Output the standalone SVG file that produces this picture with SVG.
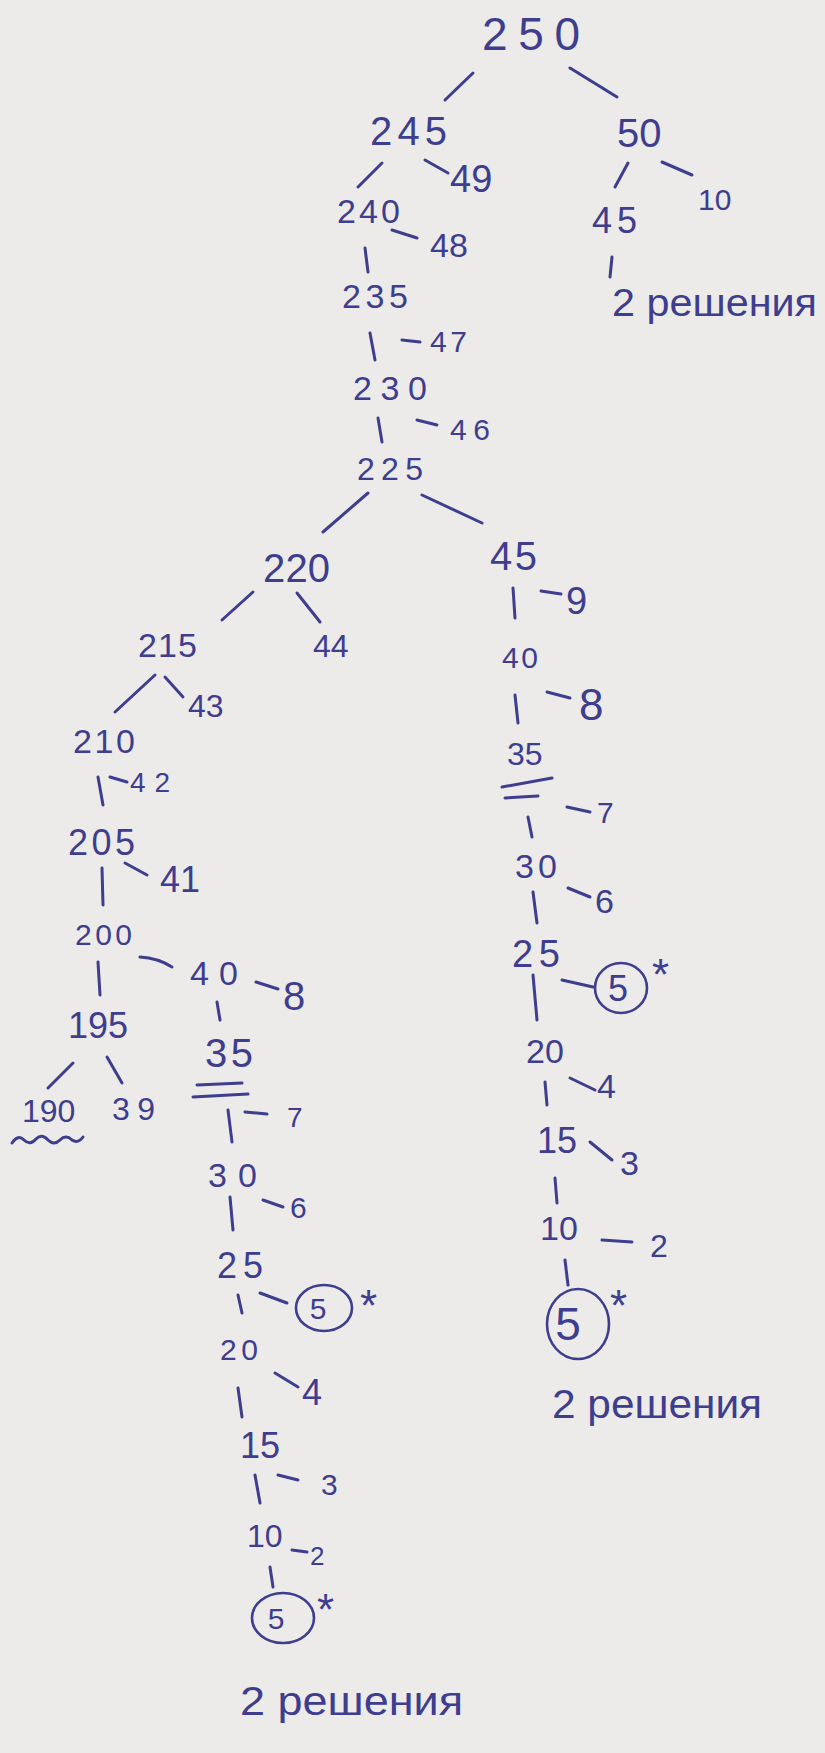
<svg xmlns="http://www.w3.org/2000/svg" width="825" height="1753" viewBox="0 0 825 1753">
<style>
text{font-family:"Liberation Sans","DejaVu Sans",sans-serif;fill:#3e3d8e;}
.c line,.c path,.m line,.m path{stroke:#3e3d8e;stroke-width:3;stroke-linecap:round;fill:none;}
ellipse{stroke:#3e3d8e;stroke-width:2.6;fill:none;}
.ctr{text-anchor:middle;}
</style>
<rect width="825" height="1753" fill="#ecebe9"/>
<g class="c" id="connectors">
<line x1="473" y1="73" x2="445" y2="100"/>
<line x1="570" y1="68" x2="617" y2="97"/>
<line x1="382" y1="163" x2="358" y2="187"/>
<line x1="425" y1="160" x2="448" y2="173"/>
<line x1="628" y1="163" x2="615" y2="187"/>
<line x1="662" y1="162" x2="692" y2="175"/>
<line x1="392" y1="230" x2="417" y2="238"/>
<line x1="365" y1="248" x2="368" y2="272"/>
<line x1="612" y1="257" x2="610" y2="277"/>
<line x1="370" y1="333" x2="375" y2="360"/>
<line x1="402" y1="340" x2="420" y2="342"/>
<line x1="378" y1="418" x2="382" y2="442"/>
<line x1="417" y1="420" x2="437" y2="425"/>
<line x1="368" y1="493" x2="323" y2="532"/>
<line x1="422" y1="495" x2="482" y2="523"/>
<line x1="253" y1="592" x2="222" y2="620"/>
<line x1="297" y1="593" x2="320" y2="622"/>
<line x1="513" y1="588" x2="515" y2="618"/>
<line x1="541" y1="591" x2="561" y2="594"/>
<line x1="155" y1="675" x2="115" y2="712"/>
<line x1="165" y1="677" x2="183" y2="697"/>
<line x1="98" y1="777" x2="103" y2="805"/>
<line x1="110" y1="777" x2="127" y2="782"/>
<line x1="102" y1="868" x2="103" y2="905"/>
<line x1="125" y1="863" x2="147" y2="875"/>
<line x1="98" y1="962" x2="100" y2="995"/>
<path d="M140 957 Q158 958 172 967"/>
<line x1="256" y1="982" x2="278" y2="989"/>
<line x1="217" y1="1002" x2="220" y2="1020"/>
<line x1="73" y1="1063" x2="48" y2="1088"/>
<line x1="107" y1="1057" x2="122" y2="1083"/>
<line x1="228" y1="1110" x2="232" y2="1142"/>
<line x1="245" y1="1112" x2="267" y2="1114"/>
<line x1="230" y1="1197" x2="233" y2="1230"/>
<line x1="263" y1="1200" x2="283" y2="1207"/>
<line x1="238" y1="1295" x2="242" y2="1313"/>
<line x1="260" y1="1293" x2="287" y2="1303"/>
<line x1="238" y1="1388" x2="242" y2="1417"/>
<line x1="275" y1="1373" x2="298" y2="1387"/>
<line x1="255" y1="1475" x2="260" y2="1503"/>
<line x1="278" y1="1475" x2="298" y2="1480"/>
<line x1="270" y1="1567" x2="273" y2="1587"/>
<line x1="292" y1="1550" x2="307" y2="1552"/>
<line x1="515" y1="695" x2="518" y2="723"/>
<line x1="547" y1="692" x2="570" y2="698"/>
<line x1="528" y1="817" x2="532" y2="837"/>
<line x1="567" y1="807" x2="590" y2="812"/>
<line x1="533" y1="892" x2="537" y2="923"/>
<line x1="568" y1="888" x2="590" y2="897"/>
<line x1="533" y1="975" x2="537" y2="1020"/>
<line x1="562" y1="980" x2="593" y2="987"/>
<line x1="545" y1="1082" x2="547" y2="1105"/>
<line x1="570" y1="1078" x2="595" y2="1090"/>
<line x1="555" y1="1178" x2="557" y2="1203"/>
<line x1="590" y1="1142" x2="612" y2="1160"/>
<line x1="565" y1="1260" x2="568" y2="1285"/>
<line x1="602" y1="1240" x2="632" y2="1242"/>
</g>
<g class="m" id="marks">
<line x1="197" y1="1085" x2="242" y2="1083"/>
<line x1="193" y1="1097" x2="248" y2="1094"/>
<line x1="502" y1="787" x2="552" y2="778"/>
<line x1="505" y1="798" x2="538" y2="796"/>
<path d="M12 1143 Q18 1134 24 1140 Q30 1146 36 1139 Q42 1133 48 1140 Q54 1146 60 1140 Q66 1134 72 1140 Q78 1144 83 1137"/>
</g>
<g id="n250"><text x="482" y="50" font-size="46" textLength="98" lengthAdjust="spacing">250</text></g>
<g id="n245"><text x="370" y="145" font-size="40" textLength="77" lengthAdjust="spacing">245</text></g>
<g id="n50"><text x="617" y="147" font-size="40">50</text></g>
<g id="n49"><text x="450" y="192" font-size="38">49</text></g>
<g id="n10a"><text x="698" y="210" font-size="30">10</text></g>
<g id="n240"><text x="337" y="223" font-size="34" textLength="63" lengthAdjust="spacing">240</text></g>
<g id="n48"><text x="430" y="257" font-size="34">48</text></g>
<g id="n45a"><text x="592" y="233" font-size="36" textLength="45" lengthAdjust="spacing">45</text></g>
<g id="sol1"><text x="612" y="316" font-size="38" textLength="205" lengthAdjust="spacingAndGlyphs">2 решения</text></g>
<g id="n235"><text x="342" y="308" font-size="34" textLength="66" lengthAdjust="spacing">235</text></g>
<g id="n47"><text x="430" y="352" font-size="30" textLength="37" lengthAdjust="spacing">47</text></g>
<g id="n230"><text x="353" y="400" font-size="34" textLength="74" lengthAdjust="spacing">230</text></g>
<g id="n46"><text x="450" y="440" font-size="30" textLength="40" lengthAdjust="spacing">46</text></g>
<g id="n225"><text x="357" y="480" font-size="32" textLength="66" lengthAdjust="spacing">225</text></g>
<g id="n45b"><text x="490" y="570" font-size="40" textLength="47" lengthAdjust="spacing">45</text></g>
<g id="n220"><text x="263" y="582" font-size="40" textLength="67" lengthAdjust="spacing">220</text></g>
<g id="n9"><text x="566" y="614" font-size="38">9</text></g>
<g id="n215"><text x="138" y="657" font-size="34" textLength="59" lengthAdjust="spacing">215</text></g>
<g id="n44"><text x="313" y="657" font-size="32">44</text></g>
<g id="n43"><text x="188" y="717" font-size="32">43</text></g>
<g id="n210"><text x="73" y="753" font-size="34" textLength="62" lengthAdjust="spacing">210</text></g>
<g id="n42"><text x="130" y="792" font-size="28" textLength="40" lengthAdjust="spacing">42</text></g>
<g id="n205"><text x="68" y="855" font-size="36" textLength="67" lengthAdjust="spacing">205</text></g>
<g id="n41"><text x="160" y="892" font-size="36">41</text></g>
<g id="n200"><text x="75" y="945" font-size="30" textLength="57" lengthAdjust="spacing">200</text></g>
<g id="n40a"><text x="190" y="985" font-size="34" textLength="48" lengthAdjust="spacing">40</text></g>
<g id="n8a"><text x="283" y="1010" font-size="40">8</text></g>
<g id="n195"><text x="68" y="1038" font-size="36">195</text></g>
<g id="n35a"><text x="205" y="1067" font-size="40" textLength="48" lengthAdjust="spacing">35</text></g>
<g id="n190"><text x="22" y="1122" font-size="32">190</text></g>
<g id="n39"><text x="112" y="1120" font-size="32" textLength="43" lengthAdjust="spacing">39</text></g>
<g id="n7a"><text x="287" y="1127" font-size="28">7</text></g>
<g id="n30a"><text x="208" y="1187" font-size="34" textLength="49" lengthAdjust="spacing">30</text></g>
<g id="n6a"><text x="290" y="1218" font-size="30">6</text></g>
<g id="n25a"><text x="217" y="1278" font-size="36" textLength="46" lengthAdjust="spacing">25</text></g>
<g id="n5a"><ellipse cx="324" cy="1308" rx="28" ry="23"/><text class="ctr" x="318" y="1319" font-size="30">5</text><text x="360" y="1321" font-size="44">*</text></g>
<g id="n20a"><text x="220" y="1360" font-size="30" textLength="38" lengthAdjust="spacing">20</text></g>
<g id="n4a"><text x="302" y="1405" font-size="36">4</text></g>
<g id="n15a"><text x="240" y="1458" font-size="36">15</text></g>
<g id="n3a"><text x="321" y="1495" font-size="30">3</text></g>
<g id="n10b"><text x="247" y="1547" font-size="32">10</text></g>
<g id="n2a"><text x="310" y="1565" font-size="26">2</text></g>
<g id="n5b"><ellipse cx="283" cy="1618" rx="31" ry="25"/><text class="ctr" x="276" y="1629" font-size="30">5</text><text x="317" y="1625" font-size="44">*</text></g>
<g id="sol3"><text x="240" y="1715" font-size="40" textLength="223" lengthAdjust="spacingAndGlyphs">2 решения</text></g>
<g id="n40b"><text x="502" y="668" font-size="30" textLength="36" lengthAdjust="spacing">40</text></g>
<g id="n8b"><text x="579" y="720" font-size="44">8</text></g>
<g id="n35b"><text x="507" y="765" font-size="32">35</text></g>
<g id="n7b"><text x="597" y="823" font-size="30">7</text></g>
<g id="n30b"><text x="515" y="878" font-size="34" textLength="42" lengthAdjust="spacing">30</text></g>
<g id="n6b"><text x="595" y="913" font-size="34">6</text></g>
<g id="n25b"><text x="512" y="967" font-size="38" textLength="48" lengthAdjust="spacing">25</text></g>
<g id="n5c"><ellipse cx="621" cy="988" rx="26" ry="25"/><text class="ctr" x="618" y="1001" font-size="36">5</text><text x="652" y="990" font-size="44">*</text></g>
<g id="n20b"><text x="526" y="1063" font-size="34">20</text></g>
<g id="n4b"><text x="597" y="1098" font-size="34">4</text></g>
<g id="n15b"><text x="537" y="1153" font-size="36">15</text></g>
<g id="n3b"><text x="620" y="1175" font-size="34">3</text></g>
<g id="n10c"><text x="540" y="1240" font-size="34">10</text></g>
<g id="n2b"><text x="650" y="1257" font-size="32">2</text></g>
<g id="n5d"><ellipse cx="578" cy="1324" rx="31" ry="35"/><text class="ctr" x="568" y="1340" font-size="46">5</text><text x="610" y="1321" font-size="44">*</text></g>
<g id="sol2"><text x="552" y="1418" font-size="40" textLength="210" lengthAdjust="spacingAndGlyphs">2 решения</text></g>
</svg>
